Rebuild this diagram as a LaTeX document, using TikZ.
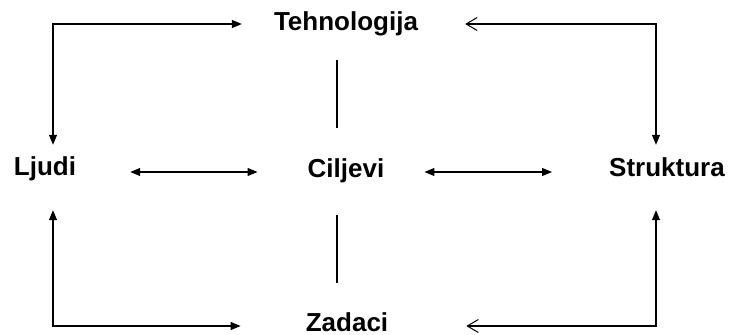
\documentclass[tikz,border=0pt]{standalone}
\usepackage{fontspec}
\setmainfont{Liberation Sans}
\usepackage{tikz}
\usetikzlibrary{arrows.meta,positioning}

\begin{document}
\begin{tikzpicture}[x=1pt, y=-1pt,
    pojam/.style={font=\fontsize{26}{30}\selectfont\bfseries, inner sep=0pt, anchor=base, text height=19pt, text depth=6pt},
    veza/.style={line width=1.1pt, black},
    puna/.tip={Triangle[length=10pt, width=8pt]},
    otvorena/.tip={Straight Barb[length=11pt, width=13pt, line width=1pt]}]
    \useasboundingbox (0,0) rectangle (729,335);

    \coordinate (cTL) at (53, 24);
    \coordinate (cTR) at (656, 24);
    \coordinate (cBL) at (53, 326);
    \coordinate (cBR) at (656, 326);
    \coordinate (hrow) at (0, 172);
    \coordinate (vcol) at (337, 0);

    \node [pojam] (tehno) at (346, 30) {Tehnologija};
    \node [pojam] (ljudi) at (45, 175) {Ljudi};
    \node [pojam] (cilj) at (346, 177) {Ciljevi};
    \node [pojam] (strukt) at (667, 176) {Struktura};
    \node [pojam] (zad) at (347, 331) {Zadaci};

    \draw [veza, puna-puna, shorten <=11pt, shorten >=32pt] (cTL |- ljudi.north) -- (cTL) -- (cTL -| tehno.west);
    \draw [veza, otvorena-puna, shorten <=47pt, shorten >=12pt] (cTR -| tehno.east) -- (cTR) -- (cTR |- strukt.north);
    \draw [veza, puna-puna, shorten <=29pt, shorten >=65pt] (cBL |- ljudi.south) -- (cBL) -- (cBL -| zad.west);
    \draw [veza, puna-otvorena, shorten <=28pt, shorten >=78pt] (cBR |- strukt.south) -- (cBR) -- (cBR -| zad.east);

    \draw [veza, puna-puna, shorten <=54pt, shorten >=50pt] (ljudi.east |- hrow) -- (cilj.west |- hrow);
    \draw [veza, puna-puna, shorten <=40pt, shorten >=57pt] (cilj.east |- hrow) -- (strukt.west |- hrow);

    \draw [veza, shorten <=24pt, shorten >=30pt] (vcol |- tehno.south) -- (vcol |- cilj.north);
    \draw [veza, shorten <=32pt, shorten >=29pt] (vcol |- cilj.south) -- (vcol |- zad.north);
\end{tikzpicture}
\end{document}
